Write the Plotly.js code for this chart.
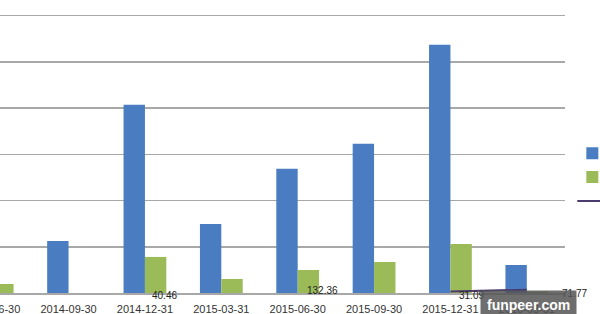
<!DOCTYPE html>
<html>
<head>
<meta charset="utf-8">
<script src="https://cdn.plot.ly/plotly-3.0.1.min.js"></script>
<style>
html,body{margin:0;padding:0;width:600px;height:314px;overflow:hidden;background:#fff;}
#chart{position:absolute;left:-100px;top:-20px;width:800px;height:360px;}
</style>
</head>
<body>
<div id="chart"></div>
<script>
// Data (y gridline step assumed 1000)
var categories = ['2014-06-30','2014-09-30','2014-12-31','2015-03-31','2015-06-30','2015-09-30','2015-12-31','2016-03-31'];
var seriesBlue  = [900, 1126, 4072, 1494, 2686, 3227, 5371, 606];
var seriesGreen = [195, 0, 780, 303, 498, 671, 1061, 30];
var seriesLine  = [null, null, 40.46, null, 132.36, null, 31.09, 71.77];
var lineLabels  = ['', '', '40.46', '', '132.36', '', '31.09', '71.77'];
var labelShift  = [0, 0, 20, 0, 25, 0, 21, 48];
var seriesNames = ['系列1', '系列2', '系列3'];
var watermark = 'funpeer.com';

var traces = [
  {type:'bar', name:seriesNames[0], x:categories, y:seriesBlue, marker:{color:'#4A7CC2'}},
  {type:'bar', name:seriesNames[1], x:categories, y:seriesGreen, marker:{color:'#9BBB59'}},
  {type:'scatter', mode:'lines', name:seriesNames[2], x:categories, y:seriesLine,
   line:{color:'#4B3A6E', width:2}, connectgaps:false}
];

var annotations = [];
for (var i = 0; i < categories.length; i++) {
  if (lineLabels[i]) {
    annotations.push({x:categories[i], y:seriesLine[i], xref:'x', yref:'y', text:lineLabels[i],
      showarrow:false, xshift:labelShift[i], yshift:-4,
      font:{family:'Arial, Liberation Sans, sans-serif', size:10, color:'#222'}});
  }
}
annotations.push({xref:'paper', yref:'paper', x:0.861, y:-0.043, xanchor:'left', yanchor:'middle',
  text:'<b>'+watermark+'</b>', showarrow:false, bgcolor:'rgba(85,85,85,0.85)', borderpad:6,
  font:{family:'Arial, Liberation Sans, sans-serif', size:14, color:'#fff'}});

var layout = {
  width:800, height:360,
  margin:{l:54, r:135, t:31, b:47},
  paper_bgcolor:'#fff', plot_bgcolor:'#fff',
  barmode:'group', bargap:0.44, bargroupgap:0,
  showlegend:true,
  legend:{x:1.012, xanchor:'left', y:0.41, yanchor:'middle', font:{size:16, color:'#444'}, itemwidth:30},
  xaxis:{type:'category', range:[-0.5, 7.5], showgrid:false, zeroline:false,
    showline:true, linecolor:'#a8a8a8', linewidth:1.5, ticks:'', ticklabelstandoff:5,
    tickfont:{family:'Arial, Liberation Sans, sans-serif', size:11, color:'#333'}},
  yaxis:{range:[0, 6100], dtick:1000, showgrid:true, gridcolor:'#a8a8a8', gridwidth:1.5,
    zeroline:false, showticklabels:false},
  annotations:annotations
};

Plotly.newPlot('chart', traces, layout, {displayModeBar:false, staticPlot:true});
</script>
</body>
</html>
